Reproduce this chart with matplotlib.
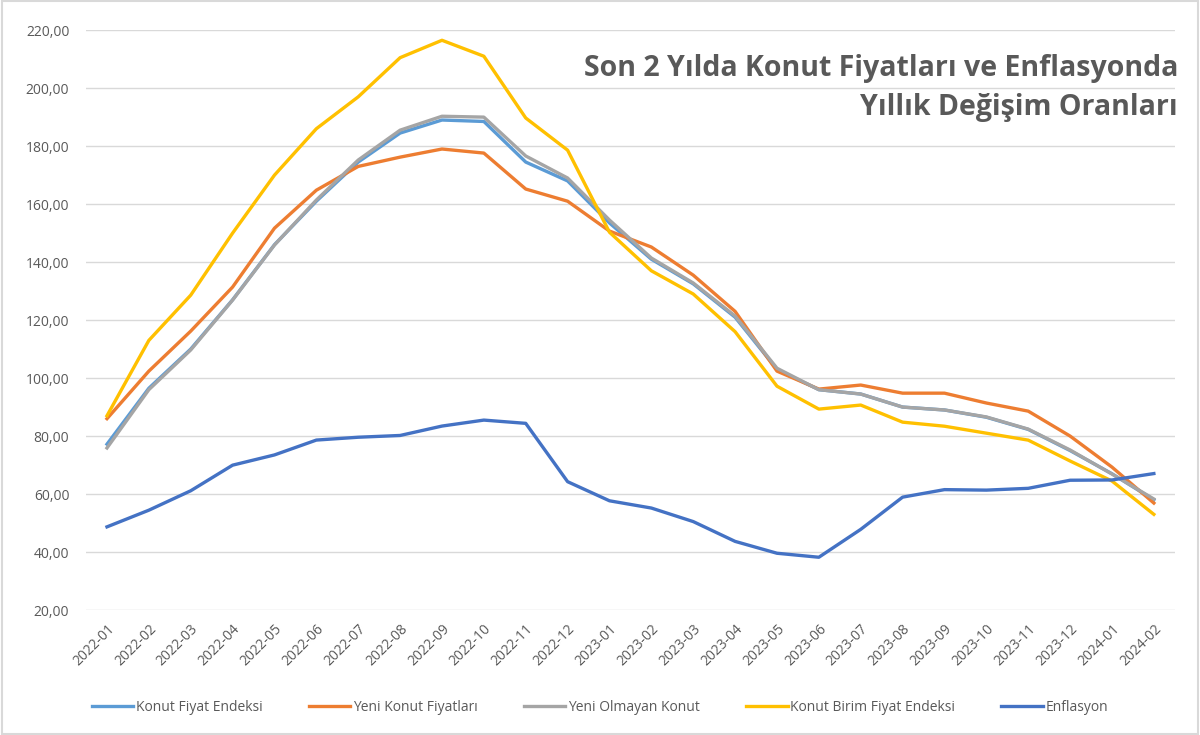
import matplotlib
matplotlib.use("Agg")
import matplotlib.pyplot as plt
from matplotlib.patches import Rectangle
from matplotlib.ticker import FuncFormatter

months = ["2022-01", "2022-02", "2022-03", "2022-04", "2022-05", "2022-06",
          "2022-07", "2022-08", "2022-09", "2022-10", "2022-11", "2022-12",
          "2023-01", "2023-02", "2023-03", "2023-04", "2023-05", "2023-06",
          "2023-07", "2023-08", "2023-09", "2023-10", "2023-11", "2023-12",
          "2024-01", "2024-02"]

konut_fiyat = [77.2, 96.5, 110.0, 127.0, 146.0, 161.0, 174.5, 184.5, 189.0, 188.5,
               174.5, 168.0, 153.5, 141.0, 132.5, 121.0, 103.0, 96.0, 94.5, 90.0,
               89.0, 86.5, 82.3, 75.0, 67.0, 58.0]
yeni_konut = [86.0, 102.4, 116.2, 131.4, 151.7, 164.8, 173.0, 176.2, 179.0, 177.6,
              165.2, 161.0, 150.7, 145.2, 135.5, 123.0, 102.4, 96.2, 97.6, 94.8,
              94.8, 91.4, 88.6, 80.0, 69.3, 56.9]
yeni_olmayan = [75.9, 96.0, 109.7, 126.9, 145.9, 161.4, 175.2, 185.5, 190.3, 190.0,
                176.6, 169.0, 154.5, 141.4, 132.8, 121.4, 103.4, 96.0, 94.5, 90.0,
                89.0, 86.6, 82.4, 75.2, 66.9, 58.3]
birim_fiyat = [87.0, 113.0, 128.6, 150.0, 170.0, 186.0, 197.0, 210.5, 216.5, 211.0,
               189.7, 178.6, 150.3, 137.0, 129.0, 116.0, 97.2, 89.3, 90.7, 84.8,
               83.4, 81.0, 78.6, 71.4, 64.5, 53.0]
enflasyon = [48.69, 54.44, 61.14, 69.97, 73.50, 78.62, 79.60, 80.21, 83.45, 85.51,
             84.39, 64.27, 57.68, 55.18, 50.51, 43.68, 39.59, 38.21, 47.83, 58.94,
             61.53, 61.36, 61.98, 64.77, 64.86, 67.07]

SERIES = [
    ("Konut Fiyat Endeksi", konut_fiyat, "#5B9BD5"),
    ("Yeni Konut Fiyatları", yeni_konut, "#ED7D31"),
    ("Yeni Olmayan Konut", yeni_olmayan, "#A5A5A5"),
    ("Konut Birim Fiyat Endeksi", birim_fiyat, "#FFC000"),
    ("Enflasyon", enflasyon, "#4472C4"),
]
TXT = "#595959"

plt.rcParams["font.family"] = ["Open Sans", "DejaVu Sans"]

fig = plt.figure(figsize=(12, 7.35), dpi=100)
ax = fig.add_axes([0.0717, 0.170, 0.9073, 0.789])

x = list(range(len(months)))
for name, vals, col in SERIES:
    ax.plot(x, vals, color=col, lw=2.4, label=name, solid_joinstyle="round")

ax.set_xlim(-0.5, len(months) - 0.5)
ax.set_ylim(20, 220)
ax.set_yticks(range(20, 221, 20))
ax.yaxis.set_major_formatter(FuncFormatter(lambda v, p: f"{v:.2f}".replace(".", ",")))
ax.set_xticks(x)
ax.set_xticklabels(months, rotation=45, ha="right", rotation_mode="anchor")
ax.tick_params(axis="both", length=0, colors=TXT, labelsize=10)
ax.tick_params(axis="y", pad=12)
ax.tick_params(axis="x", pad=8)
ax.grid(axis="y", color="#D9D9D9", lw=1)
ax.set_axisbelow(True)
for s in ax.spines.values():
    s.set_visible(False)

ax.text(1.003, 0.958, "Son 2 Yılda Konut Fiyatları ve Enflasyonda\nYıllık Değişim Oranları",
        transform=ax.transAxes, ha="right", va="top", fontsize=20.5, fontweight="bold",
        color=TXT, linespacing=1.42)

leg = fig.legend(loc="center", bbox_to_anchor=(0.5, 0.038), ncol=5, frameon=False,
                 fontsize=10, handlelength=3.0, handletextpad=0.2, columnspacing=3.3)
for t in leg.get_texts():
    t.set_color(TXT)

fig.patches.append(Rectangle((0.002, 0.002), 0.996, 0.996, transform=fig.transFigure,
                             fill=False, edgecolor="#D9D9D9", lw=1.5))

fig.savefig("out.png", dpi=100)
